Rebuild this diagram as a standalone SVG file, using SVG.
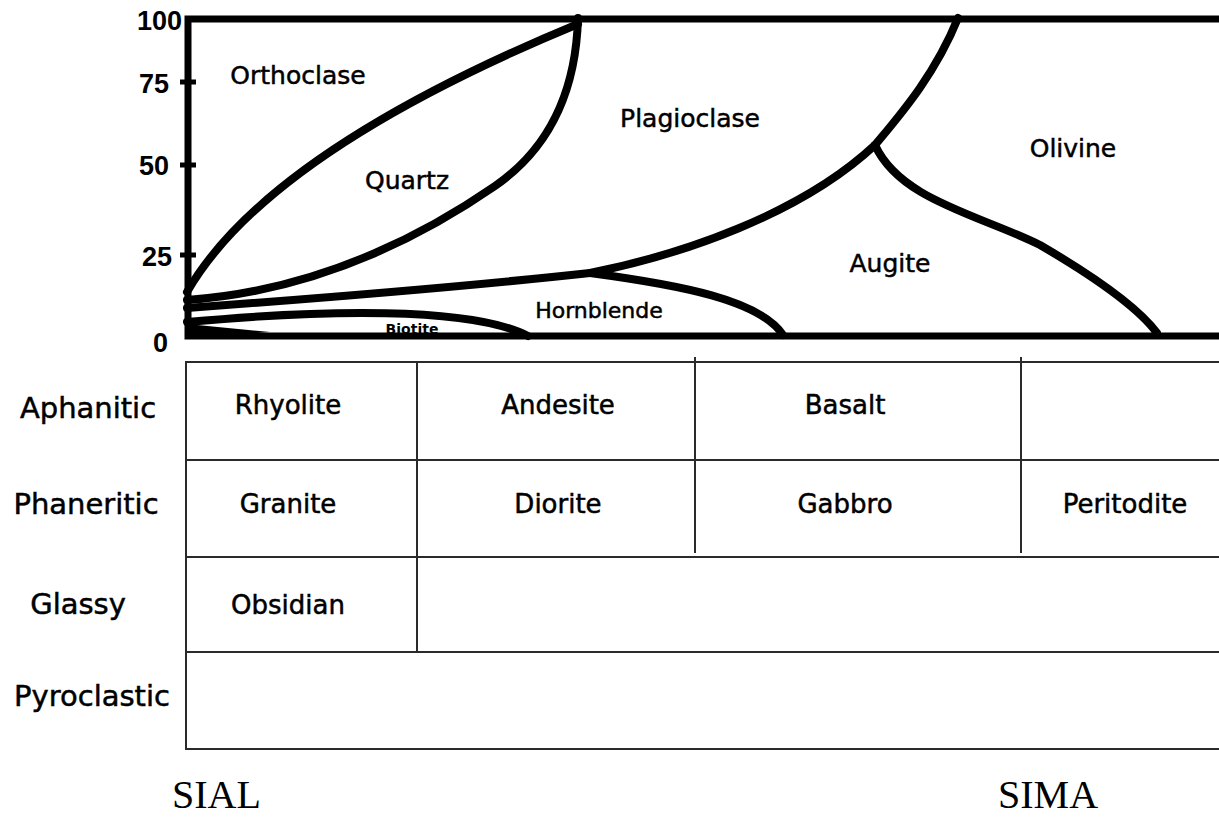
<svg xmlns="http://www.w3.org/2000/svg" width="1219" height="817" viewBox="0 0 1219 817">
  <style>
    .axis { font-family: "Liberation Sans", Arial, sans-serif; font-size: 27px; font-weight: bold; fill: #000; text-anchor: end; }
    .min { font-family: "DejaVu Sans", "Noto Sans", sans-serif; font-size: 25px; fill: #000; stroke: #000; stroke-width: 0.5; text-anchor: middle; }
    .row { font-family: "DejaVu Sans", "Noto Sans", sans-serif; font-size: 29px; fill: #000; stroke: #000; stroke-width: 0.5; text-anchor: middle; }
    .cell { font-family: "DejaVu Sans", "Noto Sans", sans-serif; font-size: 26px; fill: #000; stroke: #000; stroke-width: 0.5; text-anchor: middle; }
    .big { font-family: "Liberation Serif", "Times New Roman", serif; font-size: 40px; fill: #000; }
    .curve { fill: none; stroke: #000; stroke-width: 8; stroke-linecap: round; stroke-linejoin: round; }
    .frame { fill: none; stroke: #000; stroke-width: 7; }
    .grid { fill: none; stroke: #2a2a2a; stroke-width: 2; }
  </style>
  <rect width="1219" height="817" fill="#fff"/>

  <!-- mineral labels (drawn first so frame overlaps Biotite) -->
  <g id="labels-minerals">
    <text class="min" x="298" y="84">Orthoclase</text>
    <text class="min" x="407" y="189">Quartz</text>
    <text class="min" x="690" y="127">Plagioclase</text>
    <text class="min" x="1073" y="157">Olivine</text>
    <text class="min" x="890" y="272">Augite</text>
    <text class="min" x="599" y="318" style="font-size:22px">Hornblende</text>
    <text class="min" x="412" y="334" style="font-size:14px;font-weight:bold;stroke-width:0">Biotite</text>
  </g>

  <g id="connectors">
    <!-- Quartz upper boundary -->
    <path class="curve" d="M187,292 C240,200 370,110 578,24"/>
    <!-- Quartz lower boundary -->
    <path class="curve" d="M578,18 C576,90 550,148 495,186 C440,224 330,290 187,300"/>
    <!-- Plagioclase lower / Olivine boundary -->
    <path class="curve" d="M187,308 C350,296 480,285 590,273 C680,255 800,215 875,145 C900,115 935,75 958,18"/>
    <!-- Augite / Olivine boundary -->
    <path class="curve" d="M875,145 C900,200 980,215 1040,245 C1100,280 1140,310 1157,333"/>
    <!-- Hornblende lower boundary -->
    <path class="curve" d="M590,273 C680,285 760,300 783,335"/>
    <!-- Biotite boundary -->
    <path class="curve" d="M187,322 C320,310 470,306 528,336"/>
    <polygon points="187,324 270,332 187,338" fill="#000"/>
  </g>

  <g id="chart-frame">
    <path class="frame" d="M1219,19 L188,19 L188,336 L1219,336"/>
    <line x1="180" y1="82" x2="196" y2="82" stroke="#000" stroke-width="5"/>
    <line x1="180" y1="165" x2="196" y2="165" stroke="#000" stroke-width="5"/>
    <line x1="180" y1="255" x2="196" y2="255" stroke="#000" stroke-width="5"/>
  </g>

  <g id="axis-labels">
    <text class="axis" x="182" y="30">100</text>
    <text class="axis" x="169" y="93">75</text>
    <text class="axis" x="169" y="175">50</text>
    <text class="axis" x="172" y="266">25</text>
    <text class="axis" x="168" y="352">0</text>
  </g>

  <g id="table-grid">
    <line class="grid" x1="186" y1="362" x2="1219" y2="362"/>
    <line class="grid" x1="186" y1="460" x2="1219" y2="460"/>
    <line class="grid" x1="186" y1="557" x2="1219" y2="557"/>
    <line class="grid" x1="186" y1="652" x2="1219" y2="652"/>
    <line class="grid" x1="186" y1="749" x2="1219" y2="749"/>
    <line class="grid" x1="186" y1="361" x2="186" y2="750"/>
    <line class="grid" x1="417" y1="361" x2="417" y2="652"/>
    <line class="grid" x1="695" y1="357" x2="695" y2="553"/>
    <line class="grid" x1="1021" y1="357" x2="1021" y2="553"/>
  </g>

  <g id="row-labels">
    <text class="row" x="88" y="418">Aphanitic</text>
    <text class="row" x="86" y="514">Phaneritic</text>
    <text class="row" x="78" y="614">Glassy</text>
    <text class="row" x="92" y="706">Pyroclastic</text>
  </g>

  <g id="cell-rhyolite"><text class="cell" x="288" y="414">Rhyolite</text></g>
  <g id="cell-andesite"><text class="cell" x="558" y="414">Andesite</text></g>
  <g id="cell-basalt"><text class="cell" x="845" y="414">Basalt</text></g>
  <g id="cell-granite"><text class="cell" x="288" y="513">Granite</text></g>
  <g id="cell-diorite"><text class="cell" x="558" y="513">Diorite</text></g>
  <g id="cell-gabbro"><text class="cell" x="845" y="513">Gabbro</text></g>
  <g id="cell-peritodite"><text class="cell" x="1125" y="513">Peritodite</text></g>
  <g id="cell-obsidian"><text class="cell" x="288" y="614">Obsidian</text></g>

  <g id="footer">
    <text class="big" x="172" y="808">SIAL</text>
    <text class="big" x="998" y="808">SIMA</text>
  </g>
</svg>
